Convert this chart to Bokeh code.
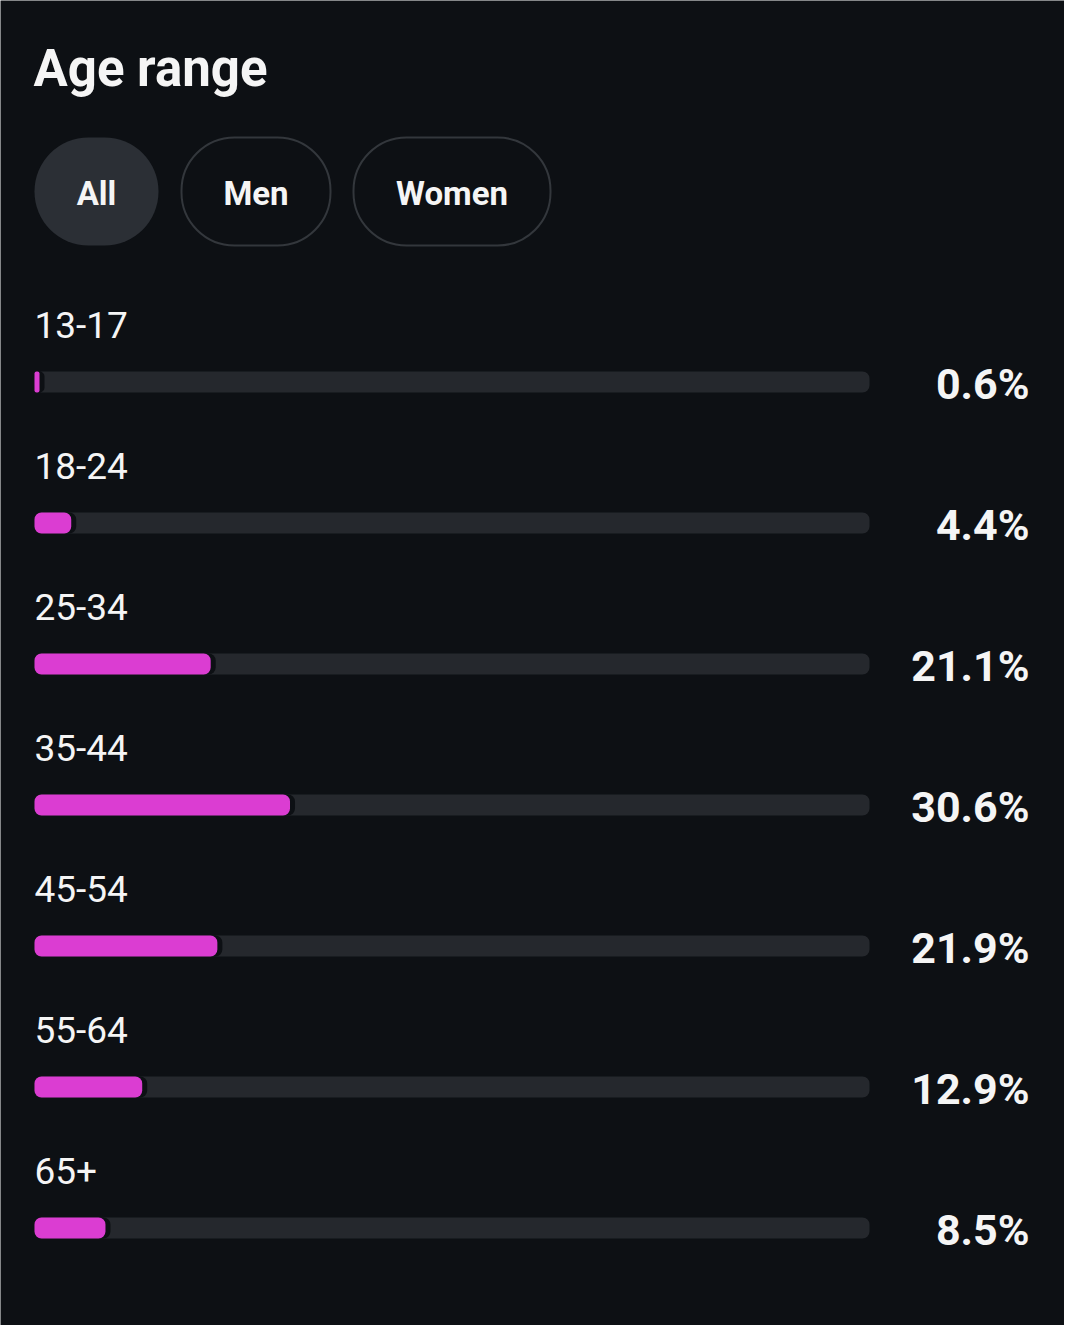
from bokeh.plotting import figure
from bokeh.models import Range1d
from bokeh.core.properties import value
from bokeh.embed import file_html
from bokeh.resources import INLINE

# 数据
age_groups = ['13-17', '18-24', '25-34', '35-44', '45-54', '55-64', '65+']
shares = [0.6, 4.4, 21.1, 30.6, 21.9, 12.9, 8.5]
filters = ['All', 'Men', 'Women']
title = 'Age range'

# 颜色
BG = '#0d1014'
TRACK = '#25282d'
PINK = '#db3dd2'
PILL_FILL = '#2b2f35'
PILL_LINE = '#33373c'
TEXT = '#f5f5f5'
FONT = 'Roboto'

W, H = 1064, 1325
X0 = 34             # 轨道左端 (px)
PX_PER_PCT = 8.35   # 100% = 835px
ROW0, ROW_STEP = 381.5, 141
BAR_H = 21

p = figure(width=W, height=H, output_backend="svg", toolbar_location=None,
           x_range=Range1d(-X0 / PX_PER_PCT, (W - X0) / PX_PER_PCT),
           y_range=Range1d(H, 0), x_axis_type=None, y_axis_type=None,
           min_border=0, outline_line_color=None,
           background_fill_color=BG, border_fill_color=BG)
p.grid.visible = False
p.extra_x_ranges = {'px': Range1d(0, W)}

# 标题
p.text(x=[X0 - 1], y=[68], text=[title], x_range_name='px',
       text_font=value(FONT), text_font_style='bold', text_font_size='51px',
       text_color=TEXT, text_baseline='middle', text_align='left')

# 筛选按钮
pill_left = [34, 181, 353]
pill_right = [158, 330, 550]
p.quad(left=pill_left[:1], right=pill_right[:1], top=[137], bottom=[245],
       x_range_name='px', fill_color=PILL_FILL, line_color=None, border_radius=54)
p.quad(left=pill_left[1:], right=pill_right[1:], top=[137, 137], bottom=[245, 245],
       x_range_name='px', fill_color=BG, line_color=PILL_LINE, line_width=2,
       border_radius=53)
p.text(x=[(l + r) / 2 for l, r in zip(pill_left, pill_right)], y=[193] * 3,
       text=filters, x_range_name='px', text_font=value(FONT), text_font_style='bold',
       text_font_size='33px', text_color=TEXT, text_baseline='middle', text_align='center')

# 条形
ys = [ROW0 + ROW_STEP * i for i in range(len(age_groups))]
gap = 5 / PX_PER_PCT
p.hbar(y=ys, left=0, right=100, height=BAR_H, fill_color=TRACK, line_color=None,
       border_radius=7)
p.hbar(y=ys, left=0, right=[s + gap for s in shares], height=BAR_H, fill_color=BG,
       line_color=None, border_radius=7)
big = [i for i, s in enumerate(shares) if s >= 2]
small = [i for i, s in enumerate(shares) if s < 2]
p.hbar(y=[ys[i] for i in big], left=0, right=[shares[i] for i in big], height=BAR_H,
       fill_color=PINK, line_color=None, border_radius=7)
p.hbar(y=[ys[i] for i in small], left=0, right=[shares[i] for i in small], height=BAR_H,
       fill_color=PINK, line_color=None, border_radius=2)

# 标签
p.text(x=[X0] * len(ys), y=[y - 57 for y in ys], text=age_groups, x_range_name='px',
       text_font=value(FONT), text_font_size='37px', text_color=TEXT,
       text_baseline='middle', text_align='left')
p.text(x=[1029] * len(ys), y=[y + 2 for y in ys], text=[f'{s}%' for s in shares],
       x_range_name='px', text_font=value(FONT), text_font_style='bold',
       text_font_size='43px', text_color=TEXT, text_baseline='middle',
       text_align='right')

open("out.html", "w").write(file_html(p, INLINE))
